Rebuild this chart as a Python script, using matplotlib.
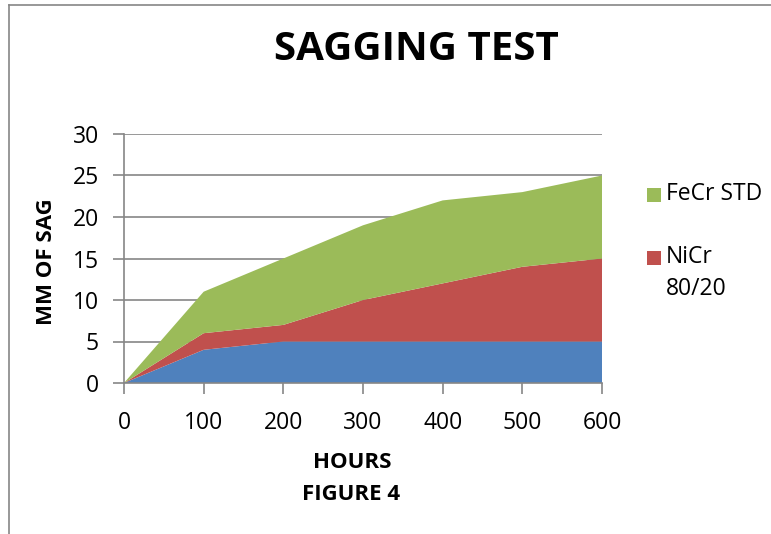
import matplotlib.pyplot as plt
from matplotlib.lines import Line2D
from matplotlib.patches import Rectangle

hours = [0, 100, 200, 300, 400, 500, 600]
# cumulative sag (mm) as read at the top edge of each band
base_sag = [0, 4, 5, 5, 5, 5, 5]
nicr_top = [0, 6, 7, 10, 12, 14, 15]
fecr_top = [0, 11, 15, 19, 22, 23, 25]

nicr_sag = [t - b for t, b in zip(nicr_top, base_sag)]
fecr_sag = [t - b for t, b in zip(fecr_top, nicr_top)]

legend_labels = ["FeCr STD", "NiCr\n80/20"]

blue, red, green = "#4F81BD", "#C0504D", "#9BBB59"
grid_c = "#868686"
font = ["Open Sans", "DejaVu Sans"]

W, H = 771, 534
fig = plt.figure(figsize=(W / 100, H / 100), dpi=100)
ax = fig.add_axes([124 / W, 1 - 383 / H, 478 / W, 249 / H])

ax.stackplot(hours, base_sag, nicr_sag, fecr_sag,
             colors=[blue, red, green], linewidth=0)

ax.set_xlim(0, 600)
ax.set_ylim(0, 30)
ax.set_xticks(hours)
ax.set_yticks(range(0, 31, 5))
ax.grid(axis="y", color=grid_c, linewidth=1.2)
ax.set_axisbelow(True)
for s in ["top", "right"]:
    ax.spines[s].set_visible(False)
for s in ["left", "bottom"]:
    ax.spines[s].set_color(grid_c)
    ax.spines[s].set_linewidth(1.2)
ax.tick_params(colors=grid_c, length=8, width=1.2, labelcolor="black",
               labelsize=16.5)
ax.tick_params(axis="y", pad=10)
ax.tick_params(axis="x", pad=12)
for lab in ax.get_xticklabels() + ax.get_yticklabels():
    lab.set_family(font)

fig.text(416 / W, 1 - 50 / H, "SAGGING TEST", ha="center", va="center",
         fontsize=29, fontweight="bold", family=font)
fig.text(46 / W, 1 - 262 / H, "MM OF SAG", ha="center", va="center",
         rotation=90, fontsize=16, fontweight="bold", family=font)
fig.text(352 / W, 1 - 462 / H, "HOURS", ha="center", va="center",
         fontsize=16, fontweight="bold", family=font)
fig.text(351 / W, 1 - 495 / H, "FIGURE 4", ha="center", va="center",
         fontsize=16, fontweight="bold", family=font)

# legend drawn by hand: square marker plus label
for color, label, y in zip([green, red], legend_labels, [195, 258]):
    fig.add_artist(Rectangle((647 / W, 1 - (y + 7) / H), 14 / W, 14 / H,
                             transform=fig.transFigure, facecolor=color,
                             edgecolor="none"))
    fig.text(666 / W, 1 - (y - 13) / H, label, ha="left", va="top",
             fontsize=16.5, family=font, linespacing=1.45)

# outer chart frame
fig.add_artist(Line2D([9 / W, 9 / W], [0, 1 - 5 / H],
                      color=grid_c, linewidth=1.2))
fig.add_artist(Line2D([9 / W, 1], [1 - 5 / H, 1 - 5 / H],
                      color=grid_c, linewidth=1.2))

fig.savefig("out.png", dpi=100)
